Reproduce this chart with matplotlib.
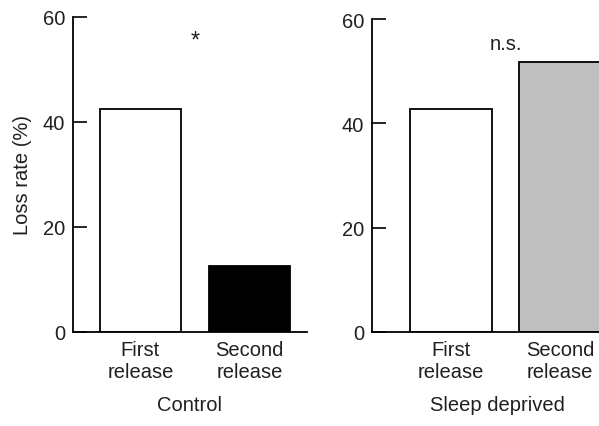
import matplotlib
matplotlib.use("Agg")
import matplotlib.pyplot as plt

plt.rcParams["font.family"] = ["Liberation Sans", "DejaVu Sans"]
plt.rcParams["font.size"] = 14.5
plt.rcParams["text.color"] = "#231f20"
plt.rcParams["axes.labelcolor"] = "#231f20"
plt.rcParams["xtick.labelcolor"] = "#231f20"
plt.rcParams["ytick.labelcolor"] = "#231f20"

# ---- data ----
categories = ["First\nrelease", "Second\nrelease"]
control_loss = [42.5, 12.5]
sleep_loss = [42.7, 51.7]
control_colors = ["white", "black"]
sleep_colors = ["white", "#bfbfbf"]
control_note = "*"
sleep_note = "n.s."
yticks = [0, 20, 40, 60]

W, H = 599, 427
fig = plt.figure(figsize=(W / 100, H / 100), dpi=100)

# pixel layout of the two panels (right one runs past the figure edge)
left_ax = fig.add_axes([73 / W, (H - 333) / H, 234 / W, 315 / H])
right_ax = fig.add_axes([372 / W, (H - 333) / H, 250 / W, 313 / H])


def draw_panel(ax, values, colors, note, note_size, xlabel, xlim):
    x = list(range(len(values)))
    ax.bar(x, values, width=0.75, color=colors, edgecolor="black", linewidth=1.3)
    ax.set_xlim(*xlim)
    ax.set_ylim(0, 60)
    ax.set_yticks(yticks)
    ax.set_xticks(x)
    ax.set_xticklabels(categories, linespacing=1.2)
    ax.tick_params(axis="x", length=0, pad=6)
    ax.tick_params(axis="y", direction="in", length=10, width=1.2, pad=5.5)
    for s in ["top", "right"]:
        ax.spines[s].set_visible(False)
    for s in ["left", "bottom"]:
        ax.spines[s].set_linewidth(1.3)
    ax.set_xlabel(xlabel, labelpad=10)
    ax.text(0.5, 54.3, note, ha="center", va="baseline", fontsize=note_size)


draw_panel(left_ax, control_loss, control_colors, control_note, 17, "Control", (-0.619, 1.528))
left_ax.set_ylabel("Loss rate (%)", labelpad=8)
draw_panel(right_ax, sleep_loss, sleep_colors, sleep_note, 14.5, "Sleep deprived", (-0.725, 1.57))

fig.savefig("out.png", dpi=100)
